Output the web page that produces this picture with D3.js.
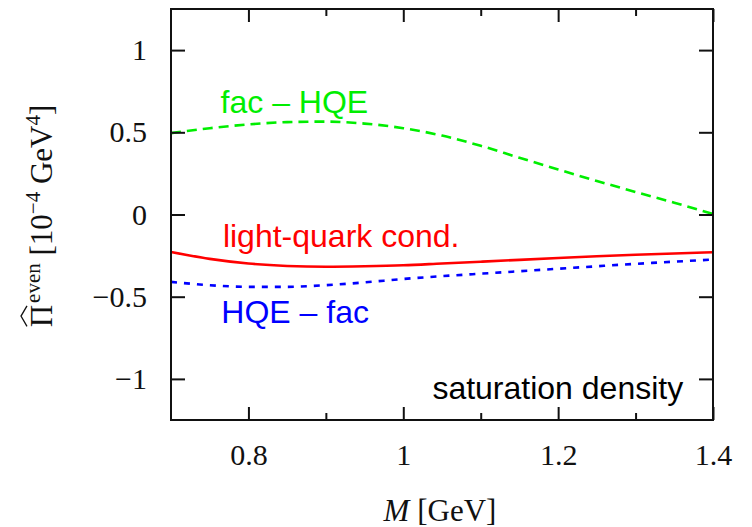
<!DOCTYPE html>
<html>
<head>
<meta charset="utf-8">
<script src="https://cdn.jsdelivr.net/npm/d3@7"></script>
<style>
  body { margin: 0; background: #fff; }
  svg { display: block; }
</style>
</head>
<body>
<div id="chart"></div>
<script>
// M [GeV] sample points
const masses = [0.70, 0.75, 0.80, 0.85, 0.90, 0.95, 1.00, 1.05, 1.10, 1.15, 1.20, 1.25, 1.30, 1.35, 1.40]

// fac - HQE (green, dashed)
const facMinusHqe = [0.495, 0.525, 0.548, 0.562, 0.565, 0.553, 0.525, 0.480, 0.418, 0.345, 0.274, 0.204, 0.137, 0.072, 0.003]
// light-quark condensate (red, solid)
const lightQuark = [-0.228, -0.270, -0.298, -0.313, -0.318, -0.315, -0.309, -0.298, -0.287, -0.276, -0.265, -0.254, -0.245, -0.237, -0.230]
// HQE - fac (blue, dotted)
const hqeMinusFac = [-0.410, -0.430, -0.440, -0.440, -0.430, -0.413, -0.392, -0.375, -0.360, -0.345, -0.330, -0.315, -0.300, -0.287, -0.274]

const xTicks = [0.8, 1, 1.2, 1.4]
const xMinorTicks = [0.9, 1.1, 1.3]
const yTicks = [1, 0.5, 0, -0.5, -1]

const width = 752
const height = 527
const margin = { top: 9, right: 39, bottom: 107, left: 171 }

const svg = d3.select('#chart')
  .append('svg')
  .attr('width', width)
  .attr('height', height)

const x = d3.scaleLinear().domain([0.7, 1.4]).range([margin.left, width - margin.right])
const y = d3.scaleLinear().domain([-1.25, 1.25]).range([height - margin.bottom, margin.top])

const serif = '"Liberation Serif", "Times New Roman", serif'
const sans = '"Liberation Sans", Arial, sans-serif'

const series = [
  { values: facMinusHqe, color: '#00ee00', dash: '10,6', width: 2.6 },
  { values: lightQuark, color: '#ff0000', dash: null, width: 2.6 },
  { values: hqeMinusFac, color: '#0000ff', dash: '6,7', width: 2.6 }
]

const line = d3.line()
  .x((d, i) => x(masses[i]))
  .y(d => y(d))
  .curve(d3.curveMonotoneX)

svg.selectAll('path.series')
  .data(series)
  .enter()
    .append('path')
    .attr('class', 'series')
    .attr('d', d => line(d.values))
    .attr('fill', 'none')
    .attr('stroke', d => d.color)
    .attr('stroke-width', d => d.width)
    .attr('stroke-dasharray', d => d.dash)

// axes, ticks pointing inwards
const styleAxis = (g) => {
  g.select('.domain').remove()
  g.selectAll('line').attr('stroke', '#111').attr('stroke-width', 2)
  g.selectAll('text')
    .attr('font-family', serif)
    .attr('font-size', 30)
    .attr('fill', '#111')
}

const plotBottom = height - margin.bottom
const plotRight = width - margin.right

svg.append('g')
  .attr('transform', `translate(0,${plotBottom})`)
  .call(d3.axisBottom(x).tickValues(xTicks).tickSize(-13).tickPadding(24).tickFormat(d3.format('~g')))
  .call(styleAxis)

svg.append('g')
  .attr('transform', `translate(0,${plotBottom})`)
  .call(d3.axisBottom(x).tickValues(xMinorTicks).tickSize(-7).tickFormat(''))
  .call(styleAxis)

svg.append('g')
  .attr('transform', `translate(0,${margin.top})`)
  .call(d3.axisTop(x).tickValues(xTicks).tickSize(-13).tickFormat(''))
  .call(styleAxis)

svg.append('g')
  .attr('transform', `translate(0,${margin.top})`)
  .call(d3.axisTop(x).tickValues(xMinorTicks).tickSize(-7).tickFormat(''))
  .call(styleAxis)

svg.append('g')
  .attr('transform', `translate(${margin.left},0)`)
  .call(d3.axisLeft(y).tickValues(yTicks).tickSize(-14).tickPadding(24).tickFormat(d3.format('~g')))
  .call(styleAxis)

svg.append('g')
  .attr('transform', `translate(${plotRight},0)`)
  .call(d3.axisRight(y).tickValues(yTicks).tickSize(-14).tickFormat(''))
  .call(styleAxis)

svg.append('rect')
  .attr('x', margin.left)
  .attr('y', margin.top)
  .attr('width', plotRight - margin.left)
  .attr('height', plotBottom - margin.top)
  .attr('fill', 'none')
  .attr('stroke', '#111')
  .attr('stroke-width', 2)

// curve labels
const labels = [
  { text: 'fac – HQE', color: '#00ee00', mx: 0.764, my: 0.616, anchor: 'start' },
  { text: 'light-quark cond.', color: '#ff0000', mx: 0.767, my: -0.197, anchor: 'start' },
  { text: 'HQE – fac', color: '#0000ff', mx: 0.765, my: -0.662, anchor: 'start' },
  { text: 'saturation density', color: '#000000', mx: 1.3615, my: -1.123, anchor: 'end' }
]

svg.selectAll('text.label')
  .data(labels)
  .enter()
    .append('text')
    .attr('class', 'label')
    .attr('x', d => x(d.mx))
    .attr('y', d => y(d.my))
    .attr('text-anchor', d => d.anchor)
    .attr('fill', d => d.color)
    .attr('font-family', sans)
    .attr('font-size', 32)
    .text(d => d.text)

// x axis title
const xTitle = svg.append('text')
  .attr('x', 440)
  .attr('y', 521)
  .attr('text-anchor', 'middle')
  .attr('font-family', serif)
  .attr('font-size', 31)
  .attr('fill', '#111')
xTitle.append('tspan').attr('font-style', 'italic').text('M')
xTitle.append('tspan').text(' [GeV]')

// y axis title
const yTitleG = svg.append('g')
  .attr('transform', 'translate(52,216) rotate(-90)')
const yTitle = yTitleG.append('text')
  .attr('text-anchor', 'middle')
  .attr('font-family', serif)
  .attr('font-size', 31)
  .attr('fill', '#111')
yTitle.append('tspan').text('Π')
yTitle.append('tspan').attr('font-size', 21).attr('dx', 2).attr('dy', -12).text('even')
yTitle.append('tspan').attr('dy', 12).text(' [10')
yTitle.append('tspan').attr('font-size', 21).attr('dy', -12).text('−4')
yTitle.append('tspan').attr('dy', 12).text(' GeV')
yTitle.append('tspan').attr('font-size', 21).attr('dy', -12).text('4')
yTitle.append('tspan').attr('dy', 12).text(']')

// wide hat over the Pi
const piBox = yTitle.node().getExtentOfChar(0)
const hatL = piBox.x + 1
const hatR = piBox.x + piBox.width - 1
yTitleG.append('path')
  .attr('d', d3.line()([[hatL, -25], [(hatL + hatR) / 2, -31], [hatR, -25]]))
  .attr('fill', 'none')
  .attr('stroke', '#111')
  .attr('stroke-width', 1.3)
</script>
</body>
</html>
